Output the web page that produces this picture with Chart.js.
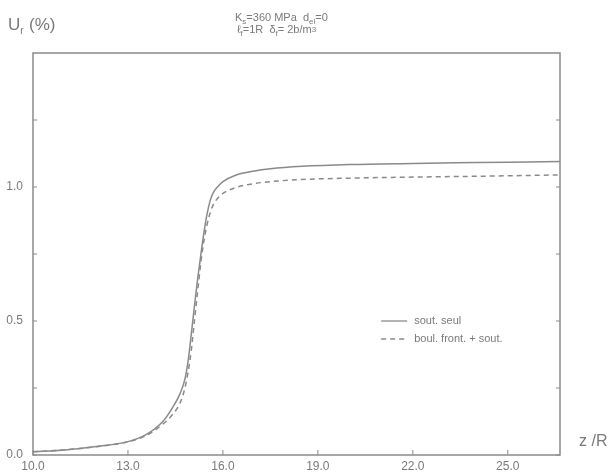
<!DOCTYPE html>
<html>
<head>
<meta charset="utf-8">
<script src="https://cdn.jsdelivr.net/npm/chart.js@4"></script>
<style>
  html, body { margin: 0; padding: 0; background: #fff; }
  #wrap { width: 613px; height: 474px; position: relative; }
</style>
</head>
<body>
<div id="wrap"><canvas id="chart"></canvas></div>
<script>
// z / R positions
const zValues = [10, 11, 12, 13, 13.6, 14.1, 14.4, 14.65, 14.8, 14.9, 15.0, 15.1, 15.2, 15.3, 15.4, 15.5, 15.6, 15.7, 15.85, 16.0, 16.4, 17.0, 17.5, 18.5, 20, 22, 24, 26.65];
// sout. seul
const soutSeul = [0.012, 0.019, 0.032, 0.05, 0.078, 0.125, 0.175, 0.23, 0.283, 0.35, 0.45, 0.555, 0.655, 0.745, 0.83, 0.9, 0.95, 0.98, 1.003, 1.02, 1.044, 1.06, 1.068, 1.077, 1.084, 1.088, 1.091, 1.095];
// boul. front. + sout.
const boulFront = [0.012, 0.019, 0.031, 0.049, 0.074, 0.115, 0.15, 0.195, 0.25, 0.31, 0.39, 0.5, 0.61, 0.715, 0.8, 0.86, 0.905, 0.935, 0.96, 0.976, 0.998, 1.013, 1.02, 1.028, 1.033, 1.037, 1.04, 1.045];

const xTicks = [10, 13, 16, 19, 22, 25];
const yTicks = [0, 0.5, 1.0];
const yMinorTicks = [0.25, 0.75, 1.25];
const seriesLabels = ['sout. seul', 'boul. front. + sout.'];

const gray = '#8a8a8a';
const textGray = '#7a7a7a';
const font = 'Liberation Sans, Arial, sans-serif';

function toPoints(ys) {
  return zValues.map((z, i) => ({ x: z, y: ys[i] }));
}

// draws the frame, inward ticks, legend and the header texts
const decorations = {
  id: 'decorations',
  afterDraw(chart) {
    const ctx = chart.ctx;
    const area = chart.chartArea;
    const xs = chart.scales.x;
    const ys = chart.scales.y;

    ctx.save();
    // frame
    ctx.strokeStyle = gray;
    ctx.lineWidth = 1.5;
    ctx.strokeRect(area.left, area.top, area.right - area.left, area.bottom - area.top);

    // inward ticks
    ctx.lineWidth = 1;
    xTicks.forEach(v => {
      const px = xs.getPixelForValue(v);
      ctx.beginPath();
      ctx.moveTo(px, area.bottom);
      ctx.lineTo(px, area.bottom - 5);
      ctx.stroke();
    });
    yTicks.concat(yMinorTicks).forEach(v => {
      const py = ys.getPixelForValue(v);
      ctx.beginPath();
      ctx.moveTo(area.left, py);
      ctx.lineTo(area.left + 4, py);
      ctx.moveTo(area.right, py);
      ctx.lineTo(area.right - 4, py);
      ctx.stroke();
    });

    // legend
    const lx = xs.getPixelForValue(21.0);
    const ly1 = ys.getPixelForValue(0.5);
    const ly2 = ly1 + 18;
    ctx.strokeStyle = gray;
    ctx.lineWidth = 1.3;
    ctx.beginPath();
    ctx.moveTo(lx, ly1);
    ctx.lineTo(lx + 26, ly1);
    ctx.stroke();
    ctx.setLineDash([5, 4]);
    ctx.beginPath();
    ctx.moveTo(lx, ly2);
    ctx.lineTo(lx + 26, ly2);
    ctx.stroke();
    ctx.setLineDash([]);
    ctx.fillStyle = textGray;
    ctx.font = '11px ' + font;
    ctx.textBaseline = 'middle';
    ctx.textAlign = 'left';
    ctx.fillText(seriesLabels[0], lx + 33, ly1);
    ctx.fillText(seriesLabels[1], lx + 33, ly2);

    // y axis title U_r (%)
    ctx.textBaseline = 'alphabetic';
    ctx.font = '17px ' + font;
    ctx.fillText('U', 8, 30);
    let w = ctx.measureText('U').width;
    ctx.font = '10px ' + font;
    ctx.fillText('r', 8 + w, 34);
    ctx.font = '17px ' + font;
    ctx.fillText(' (%)', 8 + w + 4, 30);

    // x axis title
    ctx.font = '16px ' + font;
    ctx.fillText('z /R', 579, 446);

    // header: parameters with subscripts
    function pieces(parts, x, y) {
      parts.forEach(p => {
        ctx.font = (p.sub ? '8px ' : '11px ') + font;
        ctx.fillText(p.t, x, y + (p.sub ? 3 : 0) - (p.sup ? 4 : 0));
        x += ctx.measureText(p.t).width;
      });
    }
    pieces([
      { t: 'K' }, { t: 's', sub: true }, { t: '=360 MPa  d' }, { t: 'el', sub: true }, { t: '=0' }
    ], 235, 21);
    pieces([
      { t: 'ℓ' }, { t: 'f', sub: true }, { t: '=1R  δ' }, { t: 'f', sub: true }, { t: '= 2b/m' }, { t: '3', sub: true, sup: true }
    ], 237, 33);
    ctx.restore();
  }
};

new Chart(document.getElementById('chart'), {
  type: 'line',
  data: {
    datasets: [
      {
        label: seriesLabels[0],
        data: toPoints(soutSeul),
        borderColor: gray,
        borderWidth: 1.5,
        pointRadius: 0,
        cubicInterpolationMode: 'monotone',
        fill: false
      },
      {
        label: seriesLabels[1],
        data: toPoints(boulFront),
        borderColor: gray,
        borderWidth: 1.5,
        borderDash: [5, 4],
        pointRadius: 0,
        cubicInterpolationMode: 'monotone',
        fill: false
      }
    ]
  },
  options: {
    responsive: true,
    maintainAspectRatio: false,
    animation: false,
    layout: { padding: { top: 53, right: 53, left: 0, bottom: 0 } },
    scales: {
      x: {
        type: 'linear',
        min: 10,
        max: 26.65,
        afterFit: s => { s.height = 19; },
        afterBuildTicks: s => { s.ticks = xTicks.map(v => ({ value: v })); },
        grid: { display: false, drawTicks: false },
        border: { display: false },
        ticks: {
          color: textGray,
          font: { size: 12, family: font },
          padding: 4,
          maxRotation: 0,
          autoSkip: false,
          callback: v => v.toFixed(1)
        }
      },
      y: {
        type: 'linear',
        min: 0,
        max: 1.5,
        afterFit: s => { s.width = 33; },
        afterBuildTicks: s => { s.ticks = yTicks.map(v => ({ value: v })); },
        grid: { display: false, drawTicks: false },
        border: { display: false },
        ticks: {
          color: textGray,
          font: { size: 12, family: font },
          padding: 10,
          callback: v => v.toFixed(1)
        }
      }
    },
    plugins: {
      legend: { display: false },
      tooltip: { enabled: false }
    }
  },
  plugins: [decorations]
});
</script>
</body>
</html>
